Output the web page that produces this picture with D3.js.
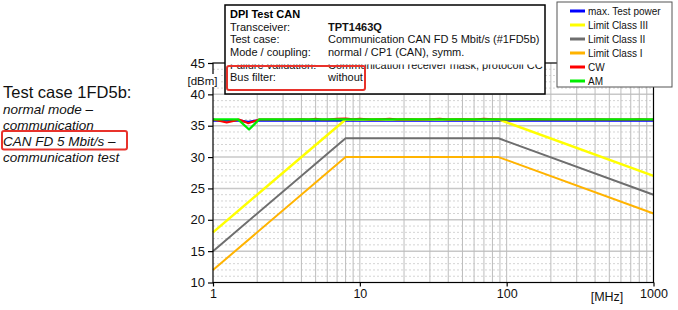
<!DOCTYPE html>
<html><head><meta charset="utf-8">
<script src="https://cdn.jsdelivr.net/npm/d3@7"></script>
<style>
html,body{margin:0;padding:0;background:#fff;}
svg{display:block;font-family:"Liberation Sans",Arial,sans-serif;}
</style></head>
<body><svg id="c" width="678" height="310"></svg>
<script>
// ---- data ----
const limitFreqs = [1, 8, 88, 1000];
const limitIII = [18, 36, 36, 27];
const limitII = [15, 33, 33, 24];
const limitI = [12, 30, 30, 21];

const maxPowerFreqs = [1, 1.48, 1.74, 2.06, 5, 20, 100, 1000];
const maxPower = [35.85, 35.85, 35.6, 35.85, 35.85, 35.85, 35.85, 35.85];

const cwFreqs = [1, 1.1, 1.24, 1.4, 1.5, 1.74, 2.06, 2.3, 2.6, 3, 3.5, 4, 4.5, 5, 5.5, 6, 7, 8, 9, 10, 12, 14, 16, 18, 20, 25, 30, 35, 40, 50, 60, 70, 80, 90, 100, 120, 150, 200, 250, 300, 400, 500, 600, 700, 800, 900, 1000];
const cw = [36, 35.8, 35.5, 35.8, 36, 35.4, 36, 36, 36, 36, 36, 36.05, 36, 36.1, 36, 36, 36.1, 36.15, 36.05, 36.1, 36, 36.05, 36.1, 36, 36.05, 36, 36.05, 36.1, 36, 36.05, 36, 36.1, 36.05, 36, 36, 36, 36.05, 36, 36, 36, 36.05, 36, 36, 36, 36.05, 36, 36];

const amFreqs = [1, 1.48, 1.76, 2.06, 5, 10, 30, 100, 300, 1000];
const am = [36, 36, 34.4, 36, 36, 36, 36, 36, 36, 36];

const yTicks = [10, 15, 20, 25, 30, 35, 40, 45];
const xTicks = [1, 10, 100, 1000];

const legendNames = ["max. Test power", "Limit Class III", "Limit Class II", "Limit Class I", "CW", "AM"];
const legendColors = ["#0000ff", "#ffff00", "#6e6e6e", "#ffb300", "#ff0000", "#00ee00"];

const infoTitle = "DPI Test CAN";
const infoLabels = ["Transceiver:", "Test case:", "Mode / coupling:", "Failure validation:", "Bus filter:"];
const infoValues = ["TPT1463Q", "Communication CAN FD 5 Mbit/s (#1FD5b)", "normal / CP1 (CAN), symm.", "Communication receiver mask, protocoll CC", "without"];

const sideTitle = "Test case 1FD5b:";
const sideLines = ["normal mode –", "communication", "CAN FD 5 Mbit/s –", "communication test"];

// ---- layout ----
const svg = d3.select("#c");
const L = 213, R = 653.5, T = 63, B = 282.5;
const x = d3.scaleLog().domain([1, 1000]).range([L, R]);
const y = d3.scaleLinear().domain([10, 45]).range([B, T]);

// grid
const g = svg.append("g");
const minorY = d3.range(10, 46).filter(v => v % 5 !== 0);
g.selectAll(".ym").data(minorY).join("line")
  .attr("x1", L).attr("x2", R).attr("y1", d => y(d)).attr("y2", d => y(d))
  .attr("stroke", "#d4d4d4").attr("stroke-width", 1).attr("stroke-dasharray", "2,2");
g.selectAll(".yM").data(yTicks.filter(v => v > 10 && v < 45)).join("line")
  .attr("x1", L).attr("x2", R).attr("y1", d => y(d)).attr("y2", d => y(d))
  .attr("stroke", "#c8c8c8").attr("stroke-width", 1.5);
const xGrid = [];
[1, 10, 100].forEach(dec => { for (let k = 1; k <= 9; k++) xGrid.push(dec * k); });
g.selectAll(".xg").data(xGrid.filter(v => v > 1)).join("line")
  .attr("x1", d => x(d)).attr("x2", d => x(d)).attr("y1", T).attr("y2", B)
  .attr("stroke", "#bdbdbd").attr("stroke-width", 1);

// lines
const line = d3.line().x(d => x(d[0])).y(d => y(d[1]));
const zip = (a, b) => a.map((v, i) => [v, b[i]]);
const series = [
  [zip(maxPowerFreqs, maxPower), legendColors[0], 2.5],
  [zip(limitFreqs, limitIII), legendColors[1], 2.5],
  [zip(limitFreqs, limitII), legendColors[2], 2],
  [zip(limitFreqs, limitI), legendColors[3], 2],
  [zip(cwFreqs, cw), legendColors[4], 2],
  [zip(amFreqs, am), legendColors[5], 2.3]
];
series.forEach(s => {
  svg.append("path").attr("d", line(s[0])).attr("fill", "none")
    .attr("stroke", s[1]).attr("stroke-width", s[2]).attr("stroke-linejoin", "round");
});

// frame
svg.append("rect").attr("x", L).attr("y", T).attr("width", R - L).attr("height", B - T)
  .attr("fill", "none").attr("stroke", "#000").attr("stroke-width", 1.2);

// axes
const ya = svg.append("g").attr("transform", `translate(${L},0)`)
  .call(d3.axisLeft(y).tickValues(yTicks).tickSize(5).tickFormat(d3.format("d")));
ya.select(".domain").remove();
ya.selectAll("line").attr("stroke", "#000").attr("stroke-width", 1.2);
ya.selectAll("text").attr("font-size", 13).attr("fill", "#111").attr("font-family", "Liberation Sans, Arial, sans-serif");

const xa = svg.append("g").attr("transform", `translate(0,${B})`)
  .call(d3.axisBottom(x).tickValues(xTicks).tickSize(4).tickFormat(d3.format("d")));
xa.select(".domain").remove();
xa.selectAll("line").attr("stroke", "#000").attr("stroke-width", 1.2);
xa.selectAll("text").attr("font-size", 12.5).attr("fill", "#111").attr("font-family", "Liberation Sans, Arial, sans-serif");

// unit labels
svg.append("rect").attr("x", 186).attr("y", 74).attr("width", 33).attr("height", 13).attr("fill", "#fff");
svg.append("text").attr("x", 202.5).attr("y", 84.5).attr("text-anchor", "middle")
  .attr("font-size", 11.5).attr("fill", "#111").text("[dBm]");
svg.append("text").attr("x", 607).attr("y", 301).attr("text-anchor", "middle")
  .attr("font-size", 12.5).attr("fill", "#111").text("[MHz]");

// info box
svg.append("rect").attr("x", 225).attr("y", 5).attr("width", 320).attr("height", 89)
  .attr("fill", "#fff").attr("stroke", "#000").attr("stroke-width", 1.5);
svg.append("defs").append("clipPath").attr("id", "clipFV")
  .append("rect").attr("x", 0).attr("y", 64.5).attr("width", 678).attr("height", 30);
svg.append("text").attr("x", 230).attr("y", 18).attr("font-size", 11).attr("font-weight", "bold").text(infoTitle);
infoLabels.forEach((lab, i) => {
  const yy = 30.5 + i * 12.7;
  const gg = svg.append("g");
  if (i === 3) gg.attr("clip-path", "url(#clipFV)");
  gg.append("text").attr("x", 230).attr("y", yy).attr("font-size", 11).attr("fill", "#111").text(lab);
  gg.append("text").attr("x", 328).attr("y", yy).attr("font-size", 11).attr("fill", "#111")
    .attr("font-weight", i === 0 ? "bold" : "normal").text(infoValues[i]);
});
svg.append("rect").attr("x", 227).attr("y", 66).attr("width", 138).attr("height", 24).attr("rx", 2)
  .attr("fill", "none").attr("stroke", "#e8322b").attr("stroke-width", 2);

// legend
svg.append("rect").attr("x", 557).attr("y", 2).attr("width", 115).attr("height", 85)
  .attr("fill", "#fff").attr("stroke", "#555").attr("stroke-width", 1);
legendNames.forEach((n, i) => {
  const yy = 11 + i * 14;
  svg.append("line").attr("x1", 570).attr("x2", 585).attr("y1", yy).attr("y2", yy)
    .attr("stroke", legendColors[i]).attr("stroke-width", 3);
  svg.append("text").attr("x", 588).attr("y", yy + 3.5).attr("font-size", 10).attr("fill", "#111").text(n);
});

// side text
svg.append("text").attr("x", 3).attr("y", 98).attr("font-size", 16.5).attr("fill", "#111").text(sideTitle);
svg.append("defs").append("clipPath").attr("id", "clipComm")
  .append("rect").attr("x", 0).attr("y", 0).attr("width", 200).attr("height", 130);
sideLines.forEach((s, i) => {
  const t = svg.append("text").attr("x", 3).attr("y", 113.5 + i * 16.1).attr("font-size", 13.5)
    .attr("font-style", "italic").attr("fill", "#111").text(s);
  if (i === 1) t.attr("clip-path", "url(#clipComm)");
});
svg.append("rect").attr("x", 2).attr("y", 131).attr("width", 125).attr("height", 18.5).attr("rx", 2)
  .attr("fill", "none").attr("stroke", "#e8322b").attr("stroke-width", 2);
</script></body></html>
